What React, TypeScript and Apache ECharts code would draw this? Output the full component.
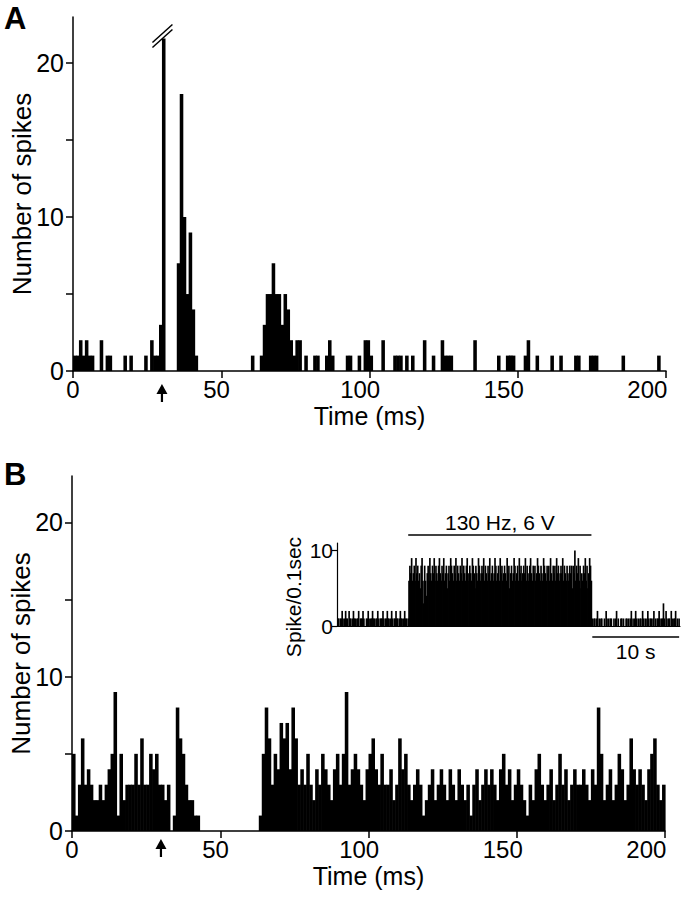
import React, { useEffect, useRef } from "react";
import * as echarts from "echarts";

// ---------- data ----------
// Panel A: spikes per 1 ms bin, 0..199 ms
const countsA = [
  1, 1, 2, 1, 2, 1, 1, 0, 0, 2,
  0, 1, 1, 0, 0, 0, 0, 1, 0, 1,
  0, 0, 0, 0, 1, 0, 2, 1, 1, 3,
  21.6, 0, 0, 0, 0, 7, 18, 10, 5, 9,
  4, 1, 0, 0, 0, 0, 0, 0, 0, 0,
  0, 0, 0, 0, 0, 0, 0, 0, 0, 0,
  1, 0, 0, 1, 3, 5, 5, 7, 5, 5,
  3, 5, 4, 2, 1, 2, 2, 0, 1, 0,
  0, 1, 1, 0, 0, 1, 2, 1, 0, 0,
  0, 0, 1, 1, 0, 0, 1, 0, 2, 2,
  1, 0, 0, 0, 2, 0, 0, 0, 1, 1,
  1, 0, 1, 0, 1, 0, 0, 0, 2, 0,
  0, 1, 0, 0, 2, 1, 1, 1, 0, 0,
  0, 0, 0, 0, 0, 2, 0, 0, 0, 0,
  0, 0, 0, 1, 0, 0, 1, 1, 1, 0,
  0, 0, 1, 2, 0, 0, 1, 0, 0, 0,
  0, 1, 0, 0, 1, 0, 0, 0, 0, 1,
  1, 0, 0, 0, 1, 1, 1, 0, 0, 0,
  0, 0, 0, 0, 0, 1, 0, 0, 0, 0,
  0, 0, 0, 0, 0, 0, 0, 1, 0, 0,
];

// Panel B: spikes per 1 ms bin, 0..199 ms
const countsB = [
  5, 1, 3, 6, 3, 4, 3, 2, 2, 3,
  2, 3, 4, 5, 9, 1, 5, 2, 3, 3,
  3, 5, 3, 6, 3, 3, 5, 4, 5, 3,
  3, 2, 3, 0, 1, 8, 6, 5, 3, 2,
  2, 1, 1, 0, 0, 0, 0, 0, 0, 0,
  0, 0, 0, 0, 0, 0, 0, 0, 0, 0,
  0, 0, 0, 1, 5, 8, 6, 3, 5, 4,
  7, 6, 7, 4, 8, 6, 3, 4, 3, 5,
  3, 2, 4, 3, 5, 4, 3, 2, 4, 5,
  3, 5, 9, 3, 4, 5, 4, 3, 2, 4,
  5, 6, 4, 3, 5, 3, 3, 4, 2, 3,
  6, 4, 5, 3, 2, 3, 4, 3, 1, 2,
  3, 4, 2, 3, 4, 3, 2, 4, 3, 2,
  4, 3, 2, 3, 1, 3, 4, 2, 3, 4,
  3, 4, 3, 2, 4, 5, 3, 4, 2, 3,
  4, 3, 2, 1, 3, 2, 4, 5, 3, 2,
  3, 4, 2, 3, 5, 3, 4, 2, 3, 4,
  3, 3, 4, 3, 2, 4, 3, 8, 5, 2,
  3, 4, 2, 3, 5, 4, 2, 3, 6, 4,
  3, 4, 3, 2, 4, 5, 6, 3, 2, 3,
];

// Inset: spikes per 0.1 s, before / during / after stimulation
const insetPre = [
  1, 1, 0, 1, 1, 2, 1, 0, 1, 2,
  1, 1, 0, 2, 1, 1, 0, 1, 2, 1,
  1, 0, 1, 1, 2, 0, 1, 1, 1, 2,
  1, 0, 0, 1, 1, 2, 1, 0, 1, 1,
  2, 1, 1, 0, 1, 1, 2, 1, 0, 1,
  1, 1, 2, 1, 0, 1, 1, 2, 1, 1,
  0, 1, 2, 1, 0, 1, 1, 2, 1, 1,
  0, 1, 2, 1, 1, 0, 1, 2, 1, 1,
  0, 1,
];
const insetStim = [
  6, 8, 7, 9, 6, 7, 8, 6, 9, 7,
  8, 6, 7, 5, 8, 9, 6, 3, 8, 6,
  4, 7, 8, 6, 9, 7, 6, 8, 7, 9,
  6, 8, 7, 6, 8, 9, 7, 6, 8, 7,
  9, 6, 7, 8, 5, 7, 8, 6, 9, 8,
  7, 6, 8, 7, 9, 6, 8, 7, 6, 8,
  7, 9, 6, 8, 7, 6, 8, 9, 7, 6,
  8, 7, 6, 9, 8, 7, 5, 8, 7, 6,
  9, 8, 6, 7, 8, 7, 9, 6, 8, 7,
  6, 8, 7, 9, 6, 7, 8, 6, 7, 9,
  8, 6, 7, 8, 6, 9, 7, 8, 6, 7,
  8, 7, 6, 9, 7, 8, 5, 7, 8, 6,
  7, 9, 8, 6, 7, 8, 6, 9, 7, 8,
  6, 7, 8, 7, 9, 6, 8, 7, 6, 8,
  9, 7, 6, 8, 7, 8, 6, 7, 9, 8,
  7, 6, 8, 7, 6, 9, 8, 7, 6, 8,
  7, 8, 6, 9, 7, 6, 8, 7, 8, 6,
  9, 7, 8, 6, 7, 8, 7, 9, 6, 8,
  7, 6, 8, 7, 6, 8, 7, 8, 5, 8,
  7, 10, 6, 8, 7, 9, 6, 8, 5, 7,
  6, 8, 7, 9, 6, 8, 5, 7, 9, 8, 6,
];
const insetPost = [
  1, 0, 1, 1, 0, 1, 2, 0, 1, 0,
  1, 1, 0, 0, 1, 0, 2, 1, 0, 1,
  0, 1, 1, 0, 0, 1, 0, 1, 2, 0,
  1, 0, 0, 1, 1, 0, 1, 0, 0, 1,
  1, 0, 1, 0, 1, 2, 0, 1, 0, 1,
  2, 1, 0, 1, 0, 1, 1, 0, 2, 1,
  0, 1, 0, 1, 2, 1, 0, 1, 1, 0,
  1, 2, 0, 1, 0, 1, 1, 2, 1, 0,
  1, 1, 3, 1, 0, 2, 1, 0, 1, 1,
  0, 2, 1, 0, 1, 1, 2, 0, 1, 0,
  1, 0,
];

const timeTicks = [0, 50, 100, 150, 200];
const countTicks = [0, 5, 10, 15, 20];
const countLabels = [0, 10, 20];
const insetTicks = [0, 10];
const stimArrowMs = 30;
const brokenBin = 30;
const stimLabel = "130 Hz, 6 V";
const scaleLabel = "10 s";
const scaleSec = 10;

const binMs = 1;
const insetBinSec = 0.1;
const insetMaxSec = 39.5;
// the printed time labels sit on a slightly compressed scale in the figure
const timeLabelMax = 206.5;

const FONT = "'Liberation Sans', Arial, Helvetica, sans-serif";

function barSeries(values: number[], idx: number, width: number, overlap: number) {
  return {
    type: "custom",
    xAxisIndex: idx,
    yAxisIndex: idx,
    silent: true,
    renderItem: (_p: any, api: any) => {
      const x = api.value(0);
      const v = api.value(1);
      if (!v) return null;
      const a = api.coord([x, 0]);
      const b = api.coord([x + width, v]);
      return {
        type: "rect",
        shape: {
          x: a[0],
          y: b[1],
          width: b[0] - a[0] + overlap,
          height: a[1] - b[1],
        },
        style: { fill: "#000" },
      };
    },
    data: values.map((v, i) => [i * width, v]),
  };
}

function mainX(grid: number) {
  return {
    gridIndex: grid,
    type: "value",
    position: "bottom",
    min: 0,
    max: 200,
    splitLine: { show: false },
    axisLine: { show: true, lineStyle: { color: "#000", width: 1.5 } },
    axisTick: {
      show: true,
      customValues: timeTicks,
      length: 7,
      lineStyle: { color: "#000", width: 1.5 },
    },
    axisLabel: { show: false },
    name: "Time (ms)",
    nameLocation: "middle",
    nameGap: 32,
    nameMoveOverlap: false,
    nameTextStyle: { color: "#000", fontSize: 25, fontFamily: FONT },
  };
}

function labelX(grid: number) {
  return {
    gridIndex: grid,
    type: "value",
    position: "bottom",
    min: 0,
    max: timeLabelMax,
    splitLine: { show: false },
    axisLine: { show: false },
    axisTick: { show: false },
    axisLabel: {
      customValues: timeTicks,
      color: "#000",
      fontSize: 24,
      fontFamily: FONT,
      margin: 6,
    },
  };
}

function mainY(grid: number) {
  return {
    gridIndex: grid,
    type: "value",
    min: 0,
    max: 23,
    splitLine: { show: false },
    axisLine: { show: true, lineStyle: { color: "#000", width: 1.5 } },
    axisTick: {
      show: true,
      customValues: countTicks,
      length: 7,
      lineStyle: { color: "#000", width: 1.5 },
    },
    axisLabel: {
      customValues: countLabels,
      color: "#000",
      fontSize: 25,
      fontFamily: FONT,
      margin: 9,
    },
    name: "Number of spikes",
    nameLocation: "middle",
    nameGap: 38,
    nameMoveOverlap: false,
    nameRotate: 90,
    nameTextStyle: { color: "#000", fontSize: 26, fontFamily: FONT },
  };
}

export default function App() {
  const ref = useRef<HTMLDivElement>(null);

  useEffect(() => {
    const el = ref.current;
    if (!el) return;
    const chart = echarts.init(el, null, { renderer: "svg" });

    const insetAll = [...insetPre, ...insetStim, ...insetPost];
    const stimStart = insetPre.length * insetBinSec;
    const stimEnd = (insetPre.length + insetStim.length) * insetBinSec;

    const gridBase = { containLabel: false, outerBoundsMode: "none" };

    chart.setOption({
      animation: false,
      backgroundColor: "#fff",
      grid: [
        { ...gridBase, left: 73, top: 17, width: 593, height: 354 },
        { ...gridBase, left: 72, top: 476, width: 593, height: 355 },
        { ...gridBase, left: 337, top: 543, width: 343, height: 83 },
      ],
      xAxis: [
        mainX(0),
        mainX(1),
        {
          gridIndex: 2,
          type: "value",
          position: "bottom",
          min: 0,
          max: insetMaxSec,
          splitLine: { show: false },
          axisLine: { show: true, lineStyle: { color: "#000", width: 1.2 } },
          axisTick: { show: false },
          axisLabel: { show: false },
        },
        labelX(0),
        labelX(1),
      ],
      yAxis: [
        mainY(0),
        mainY(1),
        {
          gridIndex: 2,
          type: "value",
          min: 0,
          max: 11,
          splitLine: { show: false },
          axisLine: { show: true, lineStyle: { color: "#000", width: 1.2 } },
          axisTick: {
            show: true,
            customValues: insetTicks,
            length: 5,
            lineStyle: { color: "#000", width: 1.2 },
          },
          axisLabel: {
            customValues: insetTicks,
            color: "#000",
            fontSize: 21,
            fontFamily: FONT,
            margin: 4,
          },
        },
      ],
      series: [
        barSeries(countsA, 0, binMs, 0.6),
        barSeries(countsB, 1, binMs, 0.6),
        barSeries(insetAll, 2, insetBinSec, 0.8),
      ],
    });

    const px = (g: number, v: number[]) =>
      chart.convertToPixel({ xAxisIndex: g, yAxisIndex: g } as any, v) as number[];

    const arrow = (x: number, y0: number, y1: number) => [
      {
        type: "line",
        shape: { x1: x, y1: y0 + 8, x2: x, y2: y1 },
        style: { stroke: "#000", lineWidth: 2.2 },
        silent: true,
      },
      {
        type: "polygon",
        shape: { points: [[x - 5.5, y0 + 10], [x + 5.5, y0 + 10], [x, y0]] },
        style: { fill: "#000" },
        silent: true,
      },
    ];

    const [aX, aY] = px(0, [stimArrowMs, 0]);
    const [bX, bY] = px(1, [stimArrowMs, 0]);
    const [brkX, brkY] = px(0, [brokenBin + binMs / 2, countsA[brokenBin]]);
    const [s0x, s0y] = px(2, [stimStart, 0]);
    const [s1x] = px(2, [stimEnd, 0]);
    const [c0x] = px(2, [stimEnd + 0.1, 0]);
    const [c1x] = px(2, [stimEnd + 0.1 + scaleSec, 0]);
    const [, i11] = px(2, [0, 11]);

    const txt = (
      text: string,
      x: number,
      y: number,
      size: number,
      opts: any = {}
    ) => ({
      type: "text",
      x,
      y,
      rotation: opts.rotation || 0,
      silent: true,
      style: {
        text,
        x: 0,
        y: 0,
        fill: "#000",
        font: `${opts.bold ? "bold " : ""}${size}px ${FONT}`,
        align: opts.align || "center",
        verticalAlign: opts.va || "middle",
        textAlign: opts.align || "center",
        textVerticalAlign: opts.va || "middle",
      },
    });

    chart.setOption({
      graphic: [
        txt("A", 4, 3, 31, { bold: true, align: "left", va: "top" }),
        txt("B", 4, 459, 31, { bold: true, align: "left", va: "top" }),
        ...arrow(aX, aY + 13, aY + 31),
        ...arrow(bX, bY + 8, bY + 26),
        // break marks on the truncated bar
        {
          type: "polygon",
          shape: {
            points: [
              [brkX - 11, brkY + 4],
              [brkX + 9, brkY - 14],
              [brkX + 9, brkY - 9],
              [brkX - 11, brkY + 9],
            ],
          },
          style: { fill: "#fff" },
          silent: true,
        },
        {
          type: "line",
          shape: { x1: brkX - 11, y1: brkY + 4, x2: brkX + 9, y2: brkY - 14 },
          style: { stroke: "#000", lineWidth: 1.5 },
          silent: true,
        },
        {
          type: "line",
          shape: { x1: brkX - 11, y1: brkY + 9, x2: brkX + 9, y2: brkY - 9 },
          style: { stroke: "#000", lineWidth: 1.5 },
          silent: true,
        },
        // inset annotations
        {
          type: "line",
          shape: { x1: s0x, y1: i11 - 8, x2: s1x, y2: i11 - 8 },
          style: { stroke: "#000", lineWidth: 1.5 },
          silent: true,
        },
        txt(stimLabel, (s0x + s1x) / 2, i11 - 21, 21),
        {
          type: "line",
          shape: { x1: c0x, y1: s0y + 11, x2: c1x, y2: s0y + 11 },
          style: { stroke: "#000", lineWidth: 1.5 },
          silent: true,
        },
        txt(scaleLabel, (c0x + c1x) / 2, s0y + 25, 21),
        txt("Spike/0.1sec", 293, 597, 21, { rotation: Math.PI / 2 }),
      ],
    });

    return () => chart.dispose();
  }, []);

  return (
    <div
      ref={ref}
      style={{ position: "absolute", left: 0, top: 0, width: 685, height: 900 }}
    />
  );
}
